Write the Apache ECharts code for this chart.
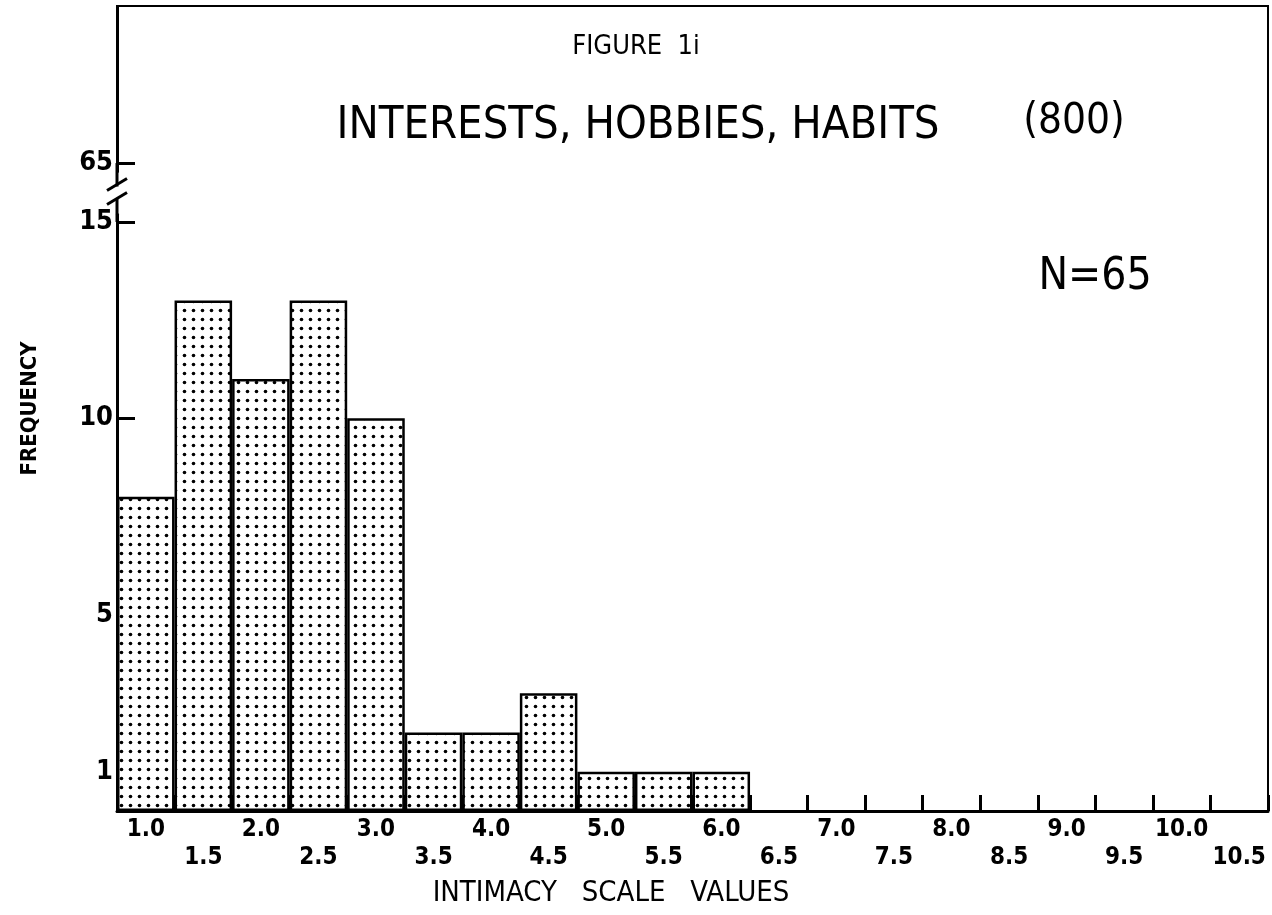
<!DOCTYPE html>
<html>
<head>
<meta charset="utf-8">
<script src="https://cdn.jsdelivr.net/npm/echarts@6.0.0/dist/echarts.min.js"></script>
<style>
  html, body { margin: 0; padding: 0; background: #fff; }
  #chart { width: 1272px; height: 915px; }
</style>
</head>
<body>
<div id="chart"></div>
<script>
// intimacy scale bins (x axis) and frequencies
const scaleValues = ["1.0", "1.5", "2.0", "2.5", "3.0", "3.5", "4.0", "4.5", "5.0", "5.5",
  "6.0", "6.5", "7.0", "7.5", "8.0", "8.5", "9.0", "9.5", "10.0", "10.5"];
const frequency = [8, 13, 11, 13, 10, 2, 2, 3, 1, 1, 1];
const yTicks = [1, 5, 10, 15, 65];

const FONT = "DejaVu Sans Condensed";

// stipple pattern for the bars
const pat = document.createElement("canvas");
pat.width = 9;
pat.height = 9;
const pctx = pat.getContext("2d");
pctx.fillStyle = "#fff";
pctx.fillRect(0, 0, 9, 9);
pctx.fillStyle = "#000";
pctx.beginPath();
pctx.arc(4.5, 4.5, 1.8, 0, Math.PI * 2);
pctx.fill();

const chartDom = document.getElementById("chart");
const myChart = echarts.init(chartDom);

function txt(id, text, x, y, size, weight) {
  return {
    type: "text", id: id, x: x, y: y, z: 60,
    style: {
      text: text, fill: "#000", fontFamily: FONT, fontSize: size,
      fontWeight: weight || "normal", align: "center", verticalAlign: "middle",
    },
  };
}

const options = {
  animation: false,
  backgroundColor: "#fff",
  grid: {
    left: 117,
    right: 4,
    top: 6,
    bottom: 104,
    show: true,
    borderColor: "#000",
    borderWidth: 2,
  },
  xAxis: {
    type: "category",
    data: scaleValues,
    boundaryGap: true,
    axisLine: { lineStyle: { color: "#000", width: 3 } },
    axisTick: { show: true, inside: true, length: 16, interval: 0, lineStyle: { color: "#000", width: 3 } },
    axisLabel: {
      show: true,
      interval: 0,
      margin: 5,
      color: "#000",
      fontFamily: FONT,
      fontSize: 24,
      fontWeight: "bold",
      lineHeight: 28,
      formatter: (v, i) => (i % 2 ? "\n" + v : v),
    },
  },
  yAxis: {
    type: "value",
    min: 0,
    max: 69,
    breaks: [{ start: 15.2, end: 64.8, gap: 1.1 }],
    breakArea: { show: false },
    splitLine: { show: false },
    axisLine: { show: true, lineStyle: { color: "#000", width: 3 } },
    axisTick: { show: true, inside: true, length: 18, customValues: yTicks, lineStyle: { color: "#000", width: 3 } },
    axisLabel: { customValues: yTicks, color: "#000", fontFamily: FONT, fontSize: 27, fontWeight: "bold", margin: 4 },
    name: "FREQUENCY",
    nameLocation: "middle",
    nameRotate: 90,
    nameGap: 76,
    nameTextStyle: { color: "#000", fontFamily: FONT, fontSize: 22, fontWeight: "bold" },
  },
  series: [
    {
      type: "bar",
      data: frequency,
      barCategoryGap: 0,
      itemStyle: {
        color: { image: pat, repeat: "repeat" },
        borderColor: "#000",
        borderWidth: 2.5,
      },
    },
  ],
};

myChart.setOption(options);

// break marks "//" on the y axis, between the 15 and 65 ticks
const y15 = myChart.convertToPixel({ yAxisIndex: 0 }, 15);
const y65 = myChart.convertToPixel({ yAxisIndex: 0 }, 65);
const xAx = 117;
const ym = (y15 + y65) / 2;
myChart.setOption({
  graphic: [
    { type: "line", id: "axfill", shape: { x1: xAx, y1: y65, x2: xAx, y2: y15 }, style: { stroke: "#000", lineWidth: 3 }, z: 49 },
    { type: "rect", id: "gap", shape: { x: xAx - 4, y: ym - 6, width: 8, height: 12 }, style: { fill: "#fff" }, z: 50 },
    { type: "line", id: "sl1", shape: { x1: xAx - 10, y1: ym - 2, x2: xAx + 10, y2: ym - 14 }, style: { stroke: "#000", lineWidth: 3 }, z: 51 },
    { type: "line", id: "sl2", shape: { x1: xAx - 10, y1: ym + 12, x2: xAx + 10, y2: ym }, style: { stroke: "#000", lineWidth: 3 }, z: 51 },
    txt("fig", "FIGURE  1i", 636, 47, 27),
    txt("title", "INTERESTS, HOBBIES, HABITS", 638, 126, 45),
    txt("num", "(800)", 1074, 122, 42),
    txt("n", "N=65", 1095, 278, 44),
    txt("xname", "INTIMACY   SCALE   VALUES", 611, 893, 29),
  ],
});
</script>
</body>
</html>
